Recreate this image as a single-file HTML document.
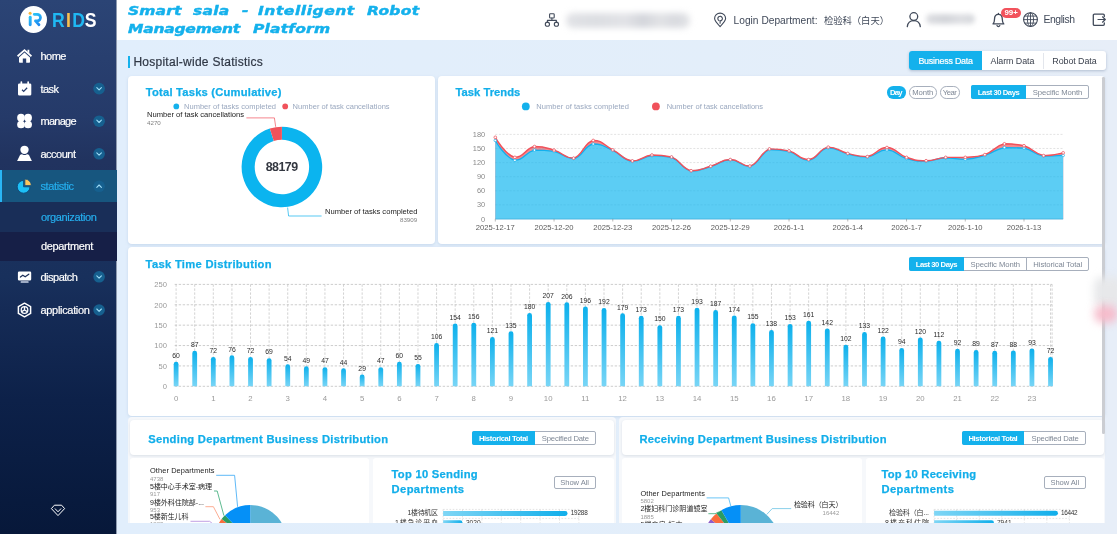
<!DOCTYPE html>
<html lang="en"><head><meta charset="utf-8"><title>Smart sala - Intelligent Robot Management Platform</title>
<style>
html,body{margin:0;padding:0}
body{width:1117px;height:534px;overflow:hidden;position:relative;background:#e2eefb;font-family:"Liberation Sans","Noto Sans CJK SC",sans-serif;}
svg{position:absolute;left:0;top:0;overflow:visible}
svg text{font-family:"Liberation Sans","Noto Sans CJK SC",sans-serif;}
</style></head><body>
<div style="position:absolute;left:116.50px;top:40.00px;width:1000.50px;height:494.00px;background:linear-gradient(90deg,#e1eefc 0%,#e3eefa 60%,#e7eef8 100%);border-radius:0px;"></div>
<div style="position:absolute;left:0.00px;top:0.00px;width:116.50px;height:534.00px;background:linear-gradient(180deg,#2b4475 0%,#253a69 22%,#21335f 30%,#18305c 52%,#152b56 58%,#0d2149 75%,#081a3d 94%,#07183a 100%);border-radius:0px;"></div>
<div style="position:absolute;left:116.30px;top:0.00px;width:0.90px;height:534.00px;background:#8f9bb0;border-radius:0px;"></div>
<div style="position:absolute;left:19.6px;top:6px;width:27.2px;height:27.2px;border-radius:50%;background:#fff"></div>
<svg width="117" height="40" viewBox="0 0 117 40">
<defs><linearGradient id="lg1" gradientUnits="userSpaceOnUse" x1="30" y1="13" x2="38" y2="26"><stop offset="0" stop-color="#2fd0f8"/><stop offset="1" stop-color="#1c86f0"/></linearGradient></defs>
<circle cx="30.1" cy="13.2" r="1.5" fill="#f9b63c"/>
<path d="M30.2 17.3 V24.7" stroke="url(#lg1)" stroke-width="2.9" stroke-linecap="round" fill="none"/>
<path d="M34.2 14.3 H37.2 a3.3 3.3 0 0 1 0 6.6 H35.4 L39 24.7" stroke="url(#lg1)" stroke-width="2.7" stroke-linecap="round" stroke-linejoin="round" fill="none"/>
</svg>
<div style="position:absolute;left:51.9px;top:7.7px;line-height:24px;font-size:20.6px;font-weight:bold;letter-spacing:0px;white-space:nowrap;transform-origin:0 0;transform:scaleX(0.855)"><span style="color:#1fb8f3">R</span><span style="color:#f8c04e;margin:0 1.6px 0 1.6px">I</span><span style="color:#1fb8f3">D</span><span style="color:#fff;margin-left:-0.4px">S</span></div>
<div style="position:absolute;left:0.00px;top:170.20px;width:116.50px;height:32.20px;background:#17567f;border-radius:0px;"></div>
<div style="position:absolute;left:0.00px;top:170.20px;width:2.00px;height:32.20px;background:#29b6f6;border-radius:0px;"></div>
<div style="position:absolute;left:0.00px;top:202.40px;width:116.50px;height:29.40px;background:#192e58;border-radius:0px;"></div>
<div style="position:absolute;left:0.00px;top:231.80px;width:116.50px;height:29.00px;background:#161f47;border-radius:0px;"></div>
<div style="position:absolute;top:49.20px;line-height:14px;font-size:11px;color:#fff;white-space:nowrap;letter-spacing:-0.554px;left:40.50px;-webkit-text-stroke:0.18px #fff;">home</div>
<div style="position:absolute;top:81.60px;line-height:14px;font-size:11px;color:#fff;white-space:nowrap;letter-spacing:-0.593px;left:40.50px;-webkit-text-stroke:0.18px #fff;">task</div>
<svg width="117" height="534"><circle cx="99.1" cy="88.6" r="5.8" fill="#16608f"/><path d="M96.80 87.60 L99.10 89.90 L101.40 87.60" stroke="#9fdcf7" stroke-width="1.1" fill="none" stroke-linecap="round" stroke-linejoin="round"/></svg>
<div style="position:absolute;top:114.20px;line-height:14px;font-size:11px;color:#fff;white-space:nowrap;letter-spacing:-0.725px;left:40.50px;-webkit-text-stroke:0.18px #fff;">manage</div>
<svg width="117" height="534"><circle cx="99.1" cy="121.2" r="5.8" fill="#16608f"/><path d="M96.80 120.20 L99.10 122.50 L101.40 120.20" stroke="#9fdcf7" stroke-width="1.1" fill="none" stroke-linecap="round" stroke-linejoin="round"/></svg>
<div style="position:absolute;top:146.80px;line-height:14px;font-size:11px;color:#fff;white-space:nowrap;letter-spacing:-0.504px;left:40.50px;-webkit-text-stroke:0.18px #fff;">account</div>
<svg width="117" height="534"><circle cx="99.1" cy="153.8" r="5.8" fill="#16608f"/><path d="M96.80 152.80 L99.10 155.10 L101.40 152.80" stroke="#9fdcf7" stroke-width="1.1" fill="none" stroke-linecap="round" stroke-linejoin="round"/></svg>
<div style="position:absolute;top:179.30px;line-height:14px;font-size:11px;color:#25b0f0;white-space:nowrap;letter-spacing:-0.386px;left:40.50px;-webkit-text-stroke:0.18px #25b0f0;">statistic</div>
<svg width="117" height="534"><circle cx="99.1" cy="186.3" r="5.8" fill="#16608f"/><path d="M96.80 187.30 L99.10 185.00 L101.40 187.30" stroke="#9fdcf7" stroke-width="1.1" fill="none" stroke-linecap="round" stroke-linejoin="round"/></svg>
<div style="position:absolute;top:210.40px;line-height:14px;font-size:11px;color:#25b0f0;white-space:nowrap;letter-spacing:-0.361px;left:40.90px;-webkit-text-stroke:0.18px #25b0f0;">organization</div>
<div style="position:absolute;top:239.40px;line-height:14px;font-size:11px;color:#fff;white-space:nowrap;letter-spacing:-0.355px;left:40.90px;-webkit-text-stroke:0.18px #fff;">department</div>
<div style="position:absolute;top:269.80px;line-height:14px;font-size:11px;color:#fff;white-space:nowrap;letter-spacing:-0.509px;left:40.50px;-webkit-text-stroke:0.18px #fff;">dispatch</div>
<svg width="117" height="534"><circle cx="99.1" cy="276.8" r="5.8" fill="#16608f"/><path d="M96.80 275.80 L99.10 278.10 L101.40 275.80" stroke="#9fdcf7" stroke-width="1.1" fill="none" stroke-linecap="round" stroke-linejoin="round"/></svg>
<div style="position:absolute;top:303.00px;line-height:14px;font-size:11px;color:#fff;white-space:nowrap;letter-spacing:-0.318px;left:40.50px;-webkit-text-stroke:0.18px #fff;">application</div>
<svg width="117" height="534"><circle cx="99.1" cy="310" r="5.8" fill="#16608f"/><path d="M96.80 309.00 L99.10 311.30 L101.40 309.00" stroke="#9fdcf7" stroke-width="1.1" fill="none" stroke-linecap="round" stroke-linejoin="round"/></svg>
<svg width="117" height="534" viewBox="0 0 117 534" fill="#fff">
<!-- home -->
<path d="M24.5 49 L32 55.6 L30.9 56.9 L24.5 51.3 L18.1 56.9 L17 55.6 Z"/>
<path d="M27.5 49.7 h1.8 v3.8 l-1.8 -1.6 Z"/>
<path d="M24.5 52.6 L30 57.4 V62 a0.8 0.8 0 0 1 -0.8 0.8 H26.2 V58.6 H22.8 V62.8 H19.8 a0.8 0.8 0 0 1 -0.8 -0.8 V57.4 Z"/>
<!-- task -->
<path d="M19.4 83.4 H29.9 a1.4 1.4 0 0 1 1.4 1.4 V94.2 a1.4 1.4 0 0 1 -1.4 1.4 H19.4 a1.4 1.4 0 0 1 -1.4 -1.4 V84.8 a1.4 1.4 0 0 1 1.4 -1.4 Z M21.6 90.2 L23.7 92.2 L27.6 88.2 L26.7 87.3 L23.7 90.4 L22.5 89.3 Z" fill-rule="evenodd"/>
<rect x="20.5" y="81.3" width="1.7" height="3.4" rx="0.8"/><rect x="27.3" y="81.3" width="1.7" height="3.4" rx="0.8"/>
<!-- manage -->
<circle cx="21" cy="117.7" r="3.85"/><circle cx="28.1" cy="117.7" r="3.85"/><circle cx="21" cy="124.5" r="3.85"/><circle cx="28.1" cy="124.5" r="3.85"/>
<!-- account -->
<circle cx="24.5" cy="149.8" r="4.15"/>
<path d="M17.1 160.9 L19.9 155.2 Q21 153.6 22.6 154.4 Q24.5 155.4 26.4 154.4 Q28 153.6 29.1 155.2 L31.9 160.9 Z"/>
<!-- statistic -->
<path d="M23.6 180.4 V186.8 H30 A6.4 6.4 0 1 1 23.6 180.4 Z" fill="#1cc0f7" stroke="#0f4c7c" stroke-width="0.9"/>
<path d="M24.9 179.1 A6.4 6.4 0 0 1 31.3 185.5 H24.9 Z" fill="#f9c65e" stroke="#0f4c7c" stroke-width="0.7"/>
<!-- dispatch -->
<path d="M19.1 271.6 H30 a1.2 1.2 0 0 1 1.2 1.2 V279.2 a1.2 1.2 0 0 1 -1.2 1.2 H19.1 a1.2 1.2 0 0 1 -1.2 -1.2 V272.8 a1.2 1.2 0 0 1 1.2 -1.2 Z"/>
<rect x="20.6" y="281.3" width="8" height="1.5" rx="0.5" fill="#c9d3e6"/>
<path d="M20.4 277 L22.8 275.2 L25.2 276.8 L28.8 274.2" stroke="#1b2f59" stroke-width="1.25" fill="none" stroke-linejoin="round" stroke-linecap="round"/>
<!-- application -->
<path d="M24.5 303.2 L30.6 306.6 V313.4 L24.5 316.8 L18.4 313.4 V306.6 Z" fill="none" stroke="#fff" stroke-width="1.5" stroke-linejoin="round"/>
<circle cx="24.5" cy="310" r="3.3" fill="none" stroke="#fff" stroke-width="1.3"/>
<path d="M24.5 310 V306.7 M24.5 310 L21.6 311.7 M24.5 310 L27.4 311.7" stroke="#fff" stroke-width="1.4" fill="none"/>
<!-- bottom diamond -->
<path d="M54.4 505.2 H61.6 L64.6 508.6 L58 515.6 L51.4 508.6 Z" fill="none" stroke="#fff" stroke-width="1" stroke-linejoin="round"/>
<path d="M55.2 508.8 L58 511.8 L60.8 508.8" fill="none" stroke="#fff" stroke-width="1" stroke-linejoin="round" stroke-linecap="round"/>
</svg>
<div style="position:absolute;left:116.50px;top:0.00px;width:1000.50px;height:40.00px;background:#fff;border-radius:0px;"></div>
<div style="position:absolute;left:0;top:0;font-family:'DejaVu Sans',sans-serif;font-weight:bold;font-style:italic;font-size:12.4px;line-height:18px;color:#14b1ec;white-space:nowrap;-webkit-text-stroke:0.45px #14b1ec"><span style="position:absolute;left:128.40px;top:2.11px;letter-spacing:0.114px;transform-origin:0 0;transform:scaleX(1.25)">Smart</span><span style="position:absolute;left:193.20px;top:2.11px;letter-spacing:0.224px;transform-origin:0 0;transform:scaleX(1.25)">sala</span><span style="position:absolute;left:241.60px;top:2.11px;letter-spacing:0.213px;transform-origin:0 0;transform:scaleX(1.25)">-</span><span style="position:absolute;left:257.70px;top:2.11px;letter-spacing:0.447px;transform-origin:0 0;transform:scaleX(1.25)">Intelligent</span><span style="position:absolute;left:366.70px;top:2.11px;letter-spacing:0.227px;transform-origin:0 0;transform:scaleX(1.25)">Robot</span><span style="position:absolute;left:128.40px;top:19.91px;letter-spacing:-0.169px;transform-origin:0 0;transform:scaleX(1.25)">Management</span><span style="position:absolute;left:253.00px;top:19.91px;letter-spacing:0.156px;transform-origin:0 0;transform:scaleX(1.25)">Platform</span></div>
<svg width="1117" height="40" viewBox="0 0 1117 40" fill="none" stroke="#414a5a" stroke-width="1.1" stroke-linejoin="round" stroke-linecap="round">
<!-- org icon -->
<rect x="549.6" y="13.8" width="4.6" height="4.2" rx="0.8"/>
<circle cx="547.4" cy="24.2" r="2.1"/><circle cx="556.4" cy="24.2" r="2.1"/>
<path d="M551.9 18 V20.4 M547.4 22.1 V20.4 H556.4 V22.1"/>
<!-- location -->
<path d="M720.1 26.6 C716.6 23 714.6 20.8 714.6 18.6 a5.5 5.5 0 0 1 11 0 C725.6 20.8 723.6 23 720.1 26.6 Z"/>
<path d="M720.1 23.2 V20.9 a2.3 2.3 0 1 0 -1.2 -0.35"/>
<!-- user -->
<circle cx="913.8" cy="16.6" r="3.9" stroke-width="1.3"/>
<path d="M907.3 26.6 C907.8 22.6 910.4 20.6 913.8 20.6 C917.2 20.6 919.8 22.6 920.3 26.6" stroke-width="1.3"/>
<!-- bell -->
<path d="M993 23.9 H1003.8 C1002.4 22.6 1002.3 21.4 1002.3 19.2 C1002.3 16 1000.6 14.3 998.4 14.3 C996.2 14.3 994.5 16 994.5 19.2 C994.5 21.4 994.4 22.6 993 23.9 Z" stroke-width="1.3"/>
<path d="M997 25.6 a1.5 1.5 0 0 0 2.8 0 M998.4 14.3 V13.5" stroke-width="1.3"/>
<!-- globe -->
<circle cx="1030.5" cy="19.6" r="6.9" stroke-width="1.1"/>
<ellipse cx="1030.5" cy="19.6" rx="3.1" ry="6.9" stroke-width="0.9"/>
<path d="M1023.6 19.6 H1037.4 M1030.5 12.7 V26.5 M1024.6 16.1 H1036.4 M1024.6 23.1 H1036.4" stroke-width="0.9"/>
<!-- logout -->
<path d="M1104.3 16.4 V15.2 a1.1 1.1 0 0 0 -1.1 -1.1 H1094.4 a1.1 1.1 0 0 0 -1.1 1.1 V24.3 a1.1 1.1 0 0 0 1.1 1.1 H1103.2 a1.1 1.1 0 0 0 1.1 -1.1 V23" stroke-width="1.3"/>
<path d="M1098 19.5 H1105.2 M1102.5 16.8 L1105.3 19.5 L1102.5 22.2" stroke-width="1.2"/>
</svg>
<div style="position:absolute;left:566px;top:13px;width:124px;height:14.5px;border-radius:7px;background:linear-gradient(90deg,#e1e2e6 0%,#dcdee2 25%,#e2e3e7 48%,#d3d5db 62%,#e2e3e6 76%,#d8dadf 88%,#e2e3e6 100%);filter:blur(3.4px)"></div>
<div style="position:absolute;left:926px;top:13.5px;width:49px;height:10px;border-radius:5px;background:linear-gradient(90deg,#dcdde1,#d3d5da 40%,#dedfe3 70%,#d6d8dc);filter:blur(2.6px)"></div>
<div style="position:absolute;top:13.70px;line-height:13px;font-size:10.2px;color:#414a5a;white-space:nowrap;letter-spacing:0.005px;left:733.60px;">Login Department:</div>
<div style="position:absolute;left:824px;top:13.5px;line-height:13px;font-size:9.4px;color:#414a5a;white-space:nowrap;font-family:'Noto Sans CJK SC',sans-serif;letter-spacing:-0.1px">检验科（白天）</div>
<div style="position:absolute;top:12.80px;line-height:14px;font-size:10.4px;color:#414a5a;white-space:nowrap;letter-spacing:-0.402px;left:1043.40px;">English</div>
<div style="position:absolute;left:1001.4px;top:7.8px;width:19.6px;height:10.1px;border-radius:5.1px;background:#f2525c;color:#fff;font-size:7.9px;font-weight:bold;line-height:10.9px;text-align:center">99+</div>
<div style="position:absolute;left:127.90px;top:56.40px;width:2.60px;height:11.20px;background:#14b1ec;border-radius:0px;"></div>
<div style="position:absolute;top:53.70px;line-height:16px;font-size:12px;color:#2f3745;white-space:nowrap;letter-spacing:0.259px;left:133.40px;-webkit-text-stroke:0.2px #2f3745;">Hospital-wide Statistics</div>
<div style="position:absolute;left:909.4px;top:51.4px;width:196.4px;height:18.3px;background:#fff;border-radius:3px;box-shadow:0 1px 3px rgba(110,130,160,.45)"></div>
<div style="position:absolute;left:909.40px;top:51.40px;width:72.40px;height:18.30px;background:#14b1ec;border-radius:0px;border-radius:3px 0 0 3px;"></div>
<div style="position:absolute;left:1043.20px;top:52.50px;width:0.50px;height:16.70px;background:#e3e6ec;border-radius:0px;"></div>
<div style="position:absolute;top:55.20px;line-height:12px;font-size:8.9px;color:#fff;white-space:nowrap;letter-spacing:-0.222px;left:745.70px;width:400px;text-align:center;text-indent:-0.222px;-webkit-text-stroke:0.2px #fff;">Business Data</div>
<div style="position:absolute;top:55.20px;line-height:12px;font-size:8.9px;color:#3c424e;white-space:nowrap;letter-spacing:-0.051px;left:812.50px;width:400px;text-align:center;text-indent:-0.051px;">Alarm Data</div>
<div style="position:absolute;top:55.20px;line-height:12px;font-size:8.9px;color:#3c424e;white-space:nowrap;letter-spacing:-0.052px;left:874.50px;width:400px;text-align:center;text-indent:-0.052px;">Robot Data</div>
<div style="position:absolute;left:128.00px;top:75.80px;width:306.60px;height:167.80px;background:#fff;border-radius:4px;box-shadow:0 1px 3px rgba(150,175,210,.35);"></div>
<div style="position:absolute;left:438.00px;top:75.80px;width:667.20px;height:167.80px;background:#fff;border-radius:4px;box-shadow:0 1px 3px rgba(150,175,210,.35);"></div>
<div style="position:absolute;left:128.00px;top:247.00px;width:977.20px;height:168.50px;background:#fff;border-radius:4px;box-shadow:0 1px 3px rgba(150,175,210,.35);"></div>
<div style="position:absolute;left:128.00px;top:417.20px;width:488.20px;height:122.80px;background:#f6f8fb;border-radius:4px;"></div>
<div style="position:absolute;left:130.00px;top:419.70px;width:483.80px;height:35.50px;background:#fff;border-radius:4px;box-shadow:0 1px 3px rgba(120,135,160,.22);"></div>
<div style="position:absolute;left:130.00px;top:458.40px;width:239.40px;height:81.60px;background:#fff;border-radius:3px;"></div>
<div style="position:absolute;left:373.00px;top:458.40px;width:240.80px;height:81.60px;background:#fff;border-radius:3px;"></div>
<div style="position:absolute;left:619.10px;top:417.20px;width:486.20px;height:122.80px;background:#f6f8fb;border-radius:4px;"></div>
<div style="position:absolute;left:621.50px;top:419.70px;width:482.10px;height:35.50px;background:#fff;border-radius:4px;box-shadow:0 1px 3px rgba(120,135,160,.22);"></div>
<div style="position:absolute;left:621.50px;top:458.40px;width:240.50px;height:81.60px;background:#fff;border-radius:3px;"></div>
<div style="position:absolute;left:865.60px;top:458.40px;width:238.00px;height:81.60px;background:#fff;border-radius:3px;"></div>
<div style="position:absolute;top:85.40px;line-height:15px;font-size:11.2px;color:#12aeea;white-space:nowrap;font-weight:bold;letter-spacing:0.212px;left:145.80px;-webkit-text-stroke:0.25px #12aeea;">Total Tasks (Cumulative)</div>
<div style="position:absolute;top:85.40px;line-height:15px;font-size:11.2px;color:#12aeea;white-space:nowrap;font-weight:bold;letter-spacing:0.042px;left:455.40px;-webkit-text-stroke:0.25px #12aeea;">Task Trends</div>
<div style="position:absolute;top:256.60px;line-height:15px;font-size:11.2px;color:#12aeea;white-space:nowrap;font-weight:bold;letter-spacing:0.305px;left:145.60px;-webkit-text-stroke:0.25px #12aeea;">Task Time Distribution</div>
<div style="position:absolute;top:431.80px;line-height:15px;font-size:11.2px;color:#12aeea;white-space:nowrap;font-weight:bold;letter-spacing:0.300px;left:148.20px;-webkit-text-stroke:0.25px #12aeea;">Sending Department Business Distribution</div>
<div style="position:absolute;top:431.80px;line-height:15px;font-size:11.2px;color:#12aeea;white-space:nowrap;font-weight:bold;letter-spacing:0.250px;left:639.40px;-webkit-text-stroke:0.25px #12aeea;">Receiving Department Business Distribution</div>
<div style="position:absolute;top:467.30px;line-height:15px;font-size:11.2px;color:#12aeea;white-space:nowrap;font-weight:bold;letter-spacing:0.282px;left:391.50px;-webkit-text-stroke:0.25px #12aeea;">Top 10 Sending</div>
<div style="position:absolute;top:482.00px;line-height:15px;font-size:11.2px;color:#12aeea;white-space:nowrap;font-weight:bold;letter-spacing:0.412px;left:391.50px;-webkit-text-stroke:0.25px #12aeea;">Departments</div>
<div style="position:absolute;top:467.30px;line-height:15px;font-size:11.2px;color:#12aeea;white-space:nowrap;font-weight:bold;letter-spacing:0.232px;left:881.40px;-webkit-text-stroke:0.25px #12aeea;">Top 10 Receiving</div>
<div style="position:absolute;top:481.70px;line-height:15px;font-size:11.2px;color:#12aeea;white-space:nowrap;font-weight:bold;letter-spacing:0.412px;left:881.40px;-webkit-text-stroke:0.25px #12aeea;">Departments</div>
<div style="position:absolute;left:971.3px;top:85.3px;width:115.5px;height:11.400000000000006px;border:1px solid #a7afbc;border-radius:2px;background:#fff"></div>
<div style="position:absolute;left:971.30px;top:85.30px;width:55.00px;height:13.40px;background:#14b1ec;border-radius:0px;border-radius:2px 0 0 2px;"></div>
<div style="position:absolute;top:87.50px;line-height:10px;font-size:7.7px;color:#fff;white-space:nowrap;font-weight:bold;letter-spacing:-0.465px;left:798.80px;width:400px;text-align:center;text-indent:-0.465px;">Last 30 Days</div>
<div style="position:absolute;top:87.50px;line-height:10px;font-size:7.7px;color:#7f8896;white-space:nowrap;letter-spacing:-0.072px;left:857.55px;width:400px;text-align:center;text-indent:-0.072px;">Specific Month</div>
<div style="position:absolute;left:909.4px;top:256.6px;width:177.5000000000001px;height:12.0px;border:1px solid #a7afbc;border-radius:2px;background:#fff"></div>
<div style="position:absolute;left:909.40px;top:256.60px;width:54.50px;height:14.00px;background:#14b1ec;border-radius:0px;border-radius:2px 0 0 2px;"></div>
<div style="position:absolute;top:259.50px;line-height:10px;font-size:7.7px;color:#fff;white-space:nowrap;font-weight:bold;letter-spacing:-0.465px;left:736.65px;width:400px;text-align:center;text-indent:-0.465px;">Last 30 Days</div>
<div style="position:absolute;top:259.50px;line-height:10px;font-size:7.7px;color:#7f8896;white-space:nowrap;letter-spacing:-0.072px;left:795.25px;width:400px;text-align:center;text-indent:-0.072px;">Specific Month</div>
<div style="position:absolute;left:1026.30px;top:256.60px;width:0.60px;height:14.00px;background:#a7afbc;border-radius:0px;"></div>
<div style="position:absolute;top:259.50px;line-height:10px;font-size:7.7px;color:#7f8896;white-space:nowrap;letter-spacing:-0.058px;left:857.75px;width:400px;text-align:center;text-indent:-0.058px;">Historical Total</div>
<div style="position:absolute;left:472.2px;top:431.4px;width:121.69999999999999px;height:11.800000000000011px;border:1px solid #a7afbc;border-radius:2px;background:#fff"></div>
<div style="position:absolute;left:472.20px;top:431.40px;width:62.80px;height:13.80px;background:#14b1ec;border-radius:0px;border-radius:2px 0 0 2px;"></div>
<div style="position:absolute;top:433.80px;line-height:10px;font-size:7.7px;color:#fff;white-space:nowrap;font-weight:bold;letter-spacing:-0.378px;left:303.60px;width:400px;text-align:center;text-indent:-0.378px;">Historical Total</div>
<div style="position:absolute;top:433.80px;line-height:10px;font-size:7.7px;color:#7f8896;white-space:nowrap;letter-spacing:-0.220px;left:365.45px;width:400px;text-align:center;text-indent:-0.220px;">Specified Date</div>
<div style="position:absolute;left:961.8px;top:431.4px;width:122.20000000000005px;height:11.800000000000011px;border:1px solid #a7afbc;border-radius:2px;background:#fff"></div>
<div style="position:absolute;left:961.80px;top:431.40px;width:62.60px;height:13.80px;background:#14b1ec;border-radius:0px;border-radius:2px 0 0 2px;"></div>
<div style="position:absolute;top:433.80px;line-height:10px;font-size:7.7px;color:#fff;white-space:nowrap;font-weight:bold;letter-spacing:-0.378px;left:793.10px;width:400px;text-align:center;text-indent:-0.378px;">Historical Total</div>
<div style="position:absolute;top:433.80px;line-height:10px;font-size:7.7px;color:#7f8896;white-space:nowrap;letter-spacing:-0.220px;left:855.20px;width:400px;text-align:center;text-indent:-0.220px;">Specified Date</div>
<div style="position:absolute;left:887.00px;top:86.20px;width:18.60px;height:12.50px;background:#14b1ec;border-radius:6.25px;"></div>
<div style="position:absolute;top:87.95px;line-height:10px;font-size:7.7px;color:#fff;white-space:nowrap;font-weight:bold;letter-spacing:-0.875px;left:696.30px;width:400px;text-align:center;text-indent:-0.875px;">Day</div>
<div style="position:absolute;left:909px;top:86.2px;width:25.600000000000023px;height:10.5px;border:1px solid #a7afbc;border-radius:6.25px;background:#fff"></div>
<div style="position:absolute;top:87.95px;line-height:10px;font-size:7.7px;color:#7f8896;white-space:nowrap;letter-spacing:-0.080px;left:722.80px;width:400px;text-align:center;text-indent:-0.080px;">Month</div>
<div style="position:absolute;left:939.6px;top:86.2px;width:18.399999999999977px;height:10.5px;border:1px solid #a7afbc;border-radius:6.25px;background:#fff"></div>
<div style="position:absolute;top:87.95px;line-height:10px;font-size:7.7px;color:#7f8896;white-space:nowrap;letter-spacing:-0.515px;left:749.80px;width:400px;text-align:center;text-indent:-0.515px;">Year</div>
<div style="position:absolute;left:553.7px;top:475.6px;width:39.89999999999998px;height:11.299999999999955px;border:1px solid #a7afbc;border-radius:2px;background:#fff"></div>
<div style="position:absolute;top:477.95px;line-height:10px;font-size:7.6px;color:#7f8896;white-space:nowrap;letter-spacing:-0.069px;left:374.65px;width:400px;text-align:center;text-indent:-0.069px;">Show All</div>
<div style="position:absolute;left:1044px;top:475.8px;width:39.5px;height:10.800000000000011px;border:1px solid #a7afbc;border-radius:2px;background:#fff"></div>
<div style="position:absolute;top:477.90px;line-height:10px;font-size:7.6px;color:#7f8896;white-space:nowrap;letter-spacing:-0.069px;left:864.75px;width:400px;text-align:center;text-indent:-0.069px;">Show All</div>
<svg width="1117" height="534" viewBox="0 0 1117 534"><circle cx="176.3" cy="106.4" r="2.85" fill="#14b1ec"/><circle cx="285.2" cy="106.4" r="2.85" fill="#f0525b"/><text x="184.00" y="109.00" font-size="7.5" fill="#9aa8bf" text-anchor="start" font-weight="normal" textLength="92.00" lengthAdjust="spacing">Number of tasks completed</text><text x="292.60" y="109.00" font-size="7.5" fill="#9aa8bf" text-anchor="start" font-weight="normal" textLength="97.00" lengthAdjust="spacing">Number of task cancellations</text><path d="M281.90 126.70 A40.3 40.3 0 1 1 269.83 128.55 L273.75 141.05 A27.2 27.2 0 1 0 281.90 139.80 Z" fill="#0bb4ef"/><path d="M269.83 128.55 A40.3 40.3 0 0 1 281.90 126.70 L281.90 139.80 A27.2 27.2 0 0 0 273.75 141.05 Z" fill="#f0525b"/><text x="281.90" y="171.06" font-size="12.4" fill="#333740" text-anchor="middle" font-weight="bold" textLength="32.50" lengthAdjust="spacing">88179</text><path d="M275.7 126.8 L274.4 117.9 H246.4" stroke="#f0525b" stroke-width="0.7" fill="none"/><path d="M287.6 207.6 L288.6 216 H321.6" stroke="#10b2ee" stroke-width="0.7" fill="none"/><text x="147.00" y="116.94" font-size="7.6" fill="#222" text-anchor="start" font-weight="normal" textLength="97.00" lengthAdjust="spacing">Number of task cancellations</text><text x="147.00" y="124.63" font-size="6.2" fill="#808080" text-anchor="start" font-weight="normal">4270</text><text x="417.40" y="214.34" font-size="7.6" fill="#222" text-anchor="end" font-weight="normal" textLength="92.40" lengthAdjust="spacing">Number of tasks completed</text><text x="417.20" y="222.23" font-size="6.2" fill="#808080" text-anchor="end" font-weight="normal">83909</text><circle cx="525.8" cy="106.4" r="3.9" fill="#14b1ec"/><circle cx="655.9" cy="106.4" r="3.9" fill="#f0525b"/><text x="536.20" y="109.00" font-size="7.5" fill="#9aa8bf" text-anchor="start" font-weight="normal" textLength="92.80" lengthAdjust="spacing">Number of tasks completed</text><text x="666.70" y="109.00" font-size="7.5" fill="#9aa8bf" text-anchor="start" font-weight="normal" textLength="96.30" lengthAdjust="spacing">Number of task cancellations</text><text x="485.20" y="221.56" font-size="7.4" fill="#8a8a8a" text-anchor="end" font-weight="normal">0</text><text x="485.20" y="207.48" font-size="7.4" fill="#8a8a8a" text-anchor="end" font-weight="normal">30</text><path d="M495.3 204.82 H1063.18" stroke="#cfcfcf" stroke-width="0.6" stroke-dasharray="2 1.6" fill="none"/><text x="485.20" y="193.40" font-size="7.4" fill="#8a8a8a" text-anchor="end" font-weight="normal">60</text><path d="M495.3 190.73 H1063.18" stroke="#cfcfcf" stroke-width="0.6" stroke-dasharray="2 1.6" fill="none"/><text x="485.20" y="179.31" font-size="7.4" fill="#8a8a8a" text-anchor="end" font-weight="normal">90</text><path d="M495.3 176.65 H1063.18" stroke="#cfcfcf" stroke-width="0.6" stroke-dasharray="2 1.6" fill="none"/><text x="485.20" y="165.23" font-size="7.4" fill="#8a8a8a" text-anchor="end" font-weight="normal">120</text><path d="M495.3 162.57 H1063.18" stroke="#cfcfcf" stroke-width="0.6" stroke-dasharray="2 1.6" fill="none"/><text x="485.20" y="151.15" font-size="7.4" fill="#8a8a8a" text-anchor="end" font-weight="normal">150</text><path d="M495.3 148.48 H1063.18" stroke="#cfcfcf" stroke-width="0.6" stroke-dasharray="2 1.6" fill="none"/><text x="485.20" y="137.06" font-size="7.4" fill="#8a8a8a" text-anchor="end" font-weight="normal">180</text><path d="M495.3 134.40 H1063.18" stroke="#cfcfcf" stroke-width="0.6" stroke-dasharray="2 1.6" fill="none"/><path d="M495.30 137.31 C495.30 137.31 505.09 155.05 514.88 157.36 C524.67 157.36 524.67 148.37 534.46 146.55 C544.26 146.55 544.26 147.19 554.05 150.09 C563.84 152.99 563.84 158.15 573.63 158.15 C583.42 155.74 583.42 142.52 593.21 140.45 C603.00 140.45 603.00 144.78 612.79 149.89 C622.58 155.00 622.58 159.63 632.37 160.90 C642.16 160.90 642.16 155.99 651.96 155.00 C661.75 155.00 661.75 155.00 671.54 156.97 C681.33 160.90 681.33 168.43 691.12 170.74 C700.91 170.74 700.91 169.02 710.70 166.21 C720.49 163.41 720.49 159.58 730.28 159.53 C740.08 159.53 740.07 166.02 749.87 166.02 C759.66 163.36 759.66 152.69 769.45 148.91 C779.24 148.91 779.24 148.91 789.03 150.88 C798.82 153.53 798.82 159.53 808.61 159.53 C818.40 158.59 818.40 148.66 828.19 147.14 C837.98 147.14 837.99 151.07 847.78 153.43 C857.57 155.79 857.57 156.58 867.36 156.58 C877.15 155.10 877.15 147.53 886.94 147.53 C896.73 147.73 896.73 154.07 906.52 157.36 C916.31 160.66 916.31 160.71 926.10 160.71 C935.89 160.71 935.89 158.20 945.69 157.36 C955.48 157.36 955.48 157.36 965.27 157.36 C975.06 156.68 975.06 157.36 984.85 154.61 C994.64 151.22 994.64 146.01 1004.43 143.80 C1014.22 143.80 1014.22 143.80 1024.01 145.76 C1033.81 148.71 1033.81 153.82 1043.60 155.59 C1053.39 155.59 1063.18 152.84 1063.18 152.84 L1063.18 218.9 L495.3 218.9 Z" fill="#f58a8f"/><path d="M495.30 140.45 C495.30 140.45 505.09 157.91 514.88 160.31 C524.67 160.31 524.67 152.30 534.46 150.09 C544.26 150.09 544.26 150.09 554.05 151.47 C563.84 153.58 563.84 158.54 573.63 158.54 C583.42 156.68 583.42 146.01 593.21 143.99 C603.00 143.99 603.00 146.16 612.79 150.48 C622.58 154.81 622.58 160.02 632.37 161.30 C642.16 161.30 642.16 156.58 651.96 155.59 C661.75 155.59 661.75 155.59 671.54 157.36 C681.33 161.25 681.33 168.82 691.12 171.13 C700.91 171.13 700.91 169.41 710.70 166.61 C720.49 163.81 720.49 159.92 730.28 159.92 C740.08 159.92 740.07 166.61 749.87 166.61 C759.66 164.00 759.66 153.28 769.45 149.50 C779.24 149.50 779.24 149.50 789.03 151.47 C798.82 154.12 798.82 160.12 808.61 160.12 C818.40 159.18 818.40 149.30 828.19 147.73 C837.98 147.73 837.99 151.51 847.78 153.82 C857.57 156.14 857.57 156.97 867.36 156.97 C877.15 155.99 877.15 149.89 886.94 149.89 C896.73 150.29 896.73 155.74 906.52 158.54 C916.31 161.10 916.31 161.10 926.10 161.10 C935.89 160.90 935.89 158.20 945.69 157.76 C955.48 157.76 955.48 159.33 965.27 159.33 C975.06 158.74 975.06 158.35 984.85 155.40 C994.64 152.45 994.64 149.35 1004.43 147.53 C1014.22 147.53 1014.22 147.53 1024.01 148.12 C1033.81 150.29 1033.81 154.37 1043.60 156.18 C1053.39 156.18 1063.18 155.40 1063.18 155.40 L1063.18 218.9 L495.3 218.9 Z" fill="#5ccdf4"/><clipPath id="ca"><path d="M495.30 137.31 C495.30 137.31 505.09 155.05 514.88 157.36 C524.67 157.36 524.67 148.37 534.46 146.55 C544.26 146.55 544.26 147.19 554.05 150.09 C563.84 152.99 563.84 158.15 573.63 158.15 C583.42 155.74 583.42 142.52 593.21 140.45 C603.00 140.45 603.00 144.78 612.79 149.89 C622.58 155.00 622.58 159.63 632.37 160.90 C642.16 160.90 642.16 155.99 651.96 155.00 C661.75 155.00 661.75 155.00 671.54 156.97 C681.33 160.90 681.33 168.43 691.12 170.74 C700.91 170.74 700.91 169.02 710.70 166.21 C720.49 163.41 720.49 159.58 730.28 159.53 C740.08 159.53 740.07 166.02 749.87 166.02 C759.66 163.36 759.66 152.69 769.45 148.91 C779.24 148.91 779.24 148.91 789.03 150.88 C798.82 153.53 798.82 159.53 808.61 159.53 C818.40 158.59 818.40 148.66 828.19 147.14 C837.98 147.14 837.99 151.07 847.78 153.43 C857.57 155.79 857.57 156.58 867.36 156.58 C877.15 155.10 877.15 147.53 886.94 147.53 C896.73 147.73 896.73 154.07 906.52 157.36 C916.31 160.66 916.31 160.71 926.10 160.71 C935.89 160.71 935.89 158.20 945.69 157.36 C955.48 157.36 955.48 157.36 965.27 157.36 C975.06 156.68 975.06 157.36 984.85 154.61 C994.64 151.22 994.64 146.01 1004.43 143.80 C1014.22 143.80 1014.22 143.80 1024.01 145.76 C1033.81 148.71 1033.81 153.82 1043.60 155.59 C1053.39 155.59 1063.18 152.84 1063.18 152.84 L1063.18 218.9 L495.3 218.9 Z"/></clipPath><path d="M495.3 204.82 H1063.18" stroke="#43b4dc" stroke-width="0.5" stroke-dasharray="2 1.6" fill="none" opacity="0.55" clip-path="url(#ca)"/><path d="M495.3 190.73 H1063.18" stroke="#43b4dc" stroke-width="0.5" stroke-dasharray="2 1.6" fill="none" opacity="0.55" clip-path="url(#ca)"/><path d="M495.3 176.65 H1063.18" stroke="#43b4dc" stroke-width="0.5" stroke-dasharray="2 1.6" fill="none" opacity="0.55" clip-path="url(#ca)"/><path d="M495.3 162.57 H1063.18" stroke="#43b4dc" stroke-width="0.5" stroke-dasharray="2 1.6" fill="none" opacity="0.55" clip-path="url(#ca)"/><path d="M495.3 148.48 H1063.18" stroke="#43b4dc" stroke-width="0.5" stroke-dasharray="2 1.6" fill="none" opacity="0.55" clip-path="url(#ca)"/><path d="M495.30 140.45 C495.30 140.45 505.09 157.91 514.88 160.31 C524.67 160.31 524.67 152.30 534.46 150.09 C544.26 150.09 544.26 150.09 554.05 151.47 C563.84 153.58 563.84 158.54 573.63 158.54 C583.42 156.68 583.42 146.01 593.21 143.99 C603.00 143.99 603.00 146.16 612.79 150.48 C622.58 154.81 622.58 160.02 632.37 161.30 C642.16 161.30 642.16 156.58 651.96 155.59 C661.75 155.59 661.75 155.59 671.54 157.36 C681.33 161.25 681.33 168.82 691.12 171.13 C700.91 171.13 700.91 169.41 710.70 166.61 C720.49 163.81 720.49 159.92 730.28 159.92 C740.08 159.92 740.07 166.61 749.87 166.61 C759.66 164.00 759.66 153.28 769.45 149.50 C779.24 149.50 779.24 149.50 789.03 151.47 C798.82 154.12 798.82 160.12 808.61 160.12 C818.40 159.18 818.40 149.30 828.19 147.73 C837.98 147.73 837.99 151.51 847.78 153.82 C857.57 156.14 857.57 156.97 867.36 156.97 C877.15 155.99 877.15 149.89 886.94 149.89 C896.73 150.29 896.73 155.74 906.52 158.54 C916.31 161.10 916.31 161.10 926.10 161.10 C935.89 160.90 935.89 158.20 945.69 157.76 C955.48 157.76 955.48 159.33 965.27 159.33 C975.06 158.74 975.06 158.35 984.85 155.40 C994.64 152.45 994.64 149.35 1004.43 147.53 C1014.22 147.53 1014.22 147.53 1024.01 148.12 C1033.81 150.29 1033.81 154.37 1043.60 156.18 C1053.39 156.18 1063.18 155.40 1063.18 155.40" stroke="#12b0ee" stroke-width="1.3" fill="none"/><path d="M495.30 137.31 C495.30 137.31 505.09 155.05 514.88 157.36 C524.67 157.36 524.67 148.37 534.46 146.55 C544.26 146.55 544.26 147.19 554.05 150.09 C563.84 152.99 563.84 158.15 573.63 158.15 C583.42 155.74 583.42 142.52 593.21 140.45 C603.00 140.45 603.00 144.78 612.79 149.89 C622.58 155.00 622.58 159.63 632.37 160.90 C642.16 160.90 642.16 155.99 651.96 155.00 C661.75 155.00 661.75 155.00 671.54 156.97 C681.33 160.90 681.33 168.43 691.12 170.74 C700.91 170.74 700.91 169.02 710.70 166.21 C720.49 163.41 720.49 159.58 730.28 159.53 C740.08 159.53 740.07 166.02 749.87 166.02 C759.66 163.36 759.66 152.69 769.45 148.91 C779.24 148.91 779.24 148.91 789.03 150.88 C798.82 153.53 798.82 159.53 808.61 159.53 C818.40 158.59 818.40 148.66 828.19 147.14 C837.98 147.14 837.99 151.07 847.78 153.43 C857.57 155.79 857.57 156.58 867.36 156.58 C877.15 155.10 877.15 147.53 886.94 147.53 C896.73 147.73 896.73 154.07 906.52 157.36 C916.31 160.66 916.31 160.71 926.10 160.71 C935.89 160.71 935.89 158.20 945.69 157.36 C955.48 157.36 955.48 157.36 965.27 157.36 C975.06 156.68 975.06 157.36 984.85 154.61 C994.64 151.22 994.64 146.01 1004.43 143.80 C1014.22 143.80 1014.22 143.80 1024.01 145.76 C1033.81 148.71 1033.81 153.82 1043.60 155.59 C1053.39 155.59 1063.18 152.84 1063.18 152.84" stroke="#f0525b" stroke-width="1.4" fill="none"/><circle cx="495.30" cy="140.45" r="1.3" fill="#fff" stroke="#12b0ee" stroke-width="0.7"/><circle cx="514.88" cy="160.31" r="1.3" fill="#fff" stroke="#12b0ee" stroke-width="0.7"/><circle cx="534.46" cy="150.09" r="1.3" fill="#fff" stroke="#12b0ee" stroke-width="0.7"/><circle cx="554.05" cy="151.47" r="1.3" fill="#fff" stroke="#12b0ee" stroke-width="0.7"/><circle cx="573.63" cy="158.54" r="1.3" fill="#fff" stroke="#12b0ee" stroke-width="0.7"/><circle cx="593.21" cy="143.99" r="1.3" fill="#fff" stroke="#12b0ee" stroke-width="0.7"/><circle cx="612.79" cy="150.48" r="1.3" fill="#fff" stroke="#12b0ee" stroke-width="0.7"/><circle cx="632.37" cy="161.30" r="1.3" fill="#fff" stroke="#12b0ee" stroke-width="0.7"/><circle cx="651.96" cy="155.59" r="1.3" fill="#fff" stroke="#12b0ee" stroke-width="0.7"/><circle cx="671.54" cy="157.36" r="1.3" fill="#fff" stroke="#12b0ee" stroke-width="0.7"/><circle cx="691.12" cy="171.13" r="1.3" fill="#fff" stroke="#12b0ee" stroke-width="0.7"/><circle cx="710.70" cy="166.61" r="1.3" fill="#fff" stroke="#12b0ee" stroke-width="0.7"/><circle cx="730.28" cy="159.92" r="1.3" fill="#fff" stroke="#12b0ee" stroke-width="0.7"/><circle cx="749.87" cy="166.61" r="1.3" fill="#fff" stroke="#12b0ee" stroke-width="0.7"/><circle cx="769.45" cy="149.50" r="1.3" fill="#fff" stroke="#12b0ee" stroke-width="0.7"/><circle cx="789.03" cy="151.47" r="1.3" fill="#fff" stroke="#12b0ee" stroke-width="0.7"/><circle cx="808.61" cy="160.12" r="1.3" fill="#fff" stroke="#12b0ee" stroke-width="0.7"/><circle cx="828.19" cy="147.73" r="1.3" fill="#fff" stroke="#12b0ee" stroke-width="0.7"/><circle cx="847.78" cy="153.82" r="1.3" fill="#fff" stroke="#12b0ee" stroke-width="0.7"/><circle cx="867.36" cy="156.97" r="1.3" fill="#fff" stroke="#12b0ee" stroke-width="0.7"/><circle cx="886.94" cy="149.89" r="1.3" fill="#fff" stroke="#12b0ee" stroke-width="0.7"/><circle cx="906.52" cy="158.54" r="1.3" fill="#fff" stroke="#12b0ee" stroke-width="0.7"/><circle cx="926.10" cy="161.10" r="1.3" fill="#fff" stroke="#12b0ee" stroke-width="0.7"/><circle cx="945.69" cy="157.76" r="1.3" fill="#fff" stroke="#12b0ee" stroke-width="0.7"/><circle cx="965.27" cy="159.33" r="1.3" fill="#fff" stroke="#12b0ee" stroke-width="0.7"/><circle cx="984.85" cy="155.40" r="1.3" fill="#fff" stroke="#12b0ee" stroke-width="0.7"/><circle cx="1004.43" cy="147.53" r="1.3" fill="#fff" stroke="#12b0ee" stroke-width="0.7"/><circle cx="1024.01" cy="148.12" r="1.3" fill="#fff" stroke="#12b0ee" stroke-width="0.7"/><circle cx="1043.60" cy="156.18" r="1.3" fill="#fff" stroke="#12b0ee" stroke-width="0.7"/><circle cx="1063.18" cy="155.40" r="1.3" fill="#fff" stroke="#12b0ee" stroke-width="0.7"/><circle cx="495.30" cy="137.31" r="1.35" fill="#fff" stroke="#f0525b" stroke-width="0.75"/><circle cx="514.88" cy="157.36" r="1.35" fill="#fff" stroke="#f0525b" stroke-width="0.75"/><circle cx="534.46" cy="146.55" r="1.35" fill="#fff" stroke="#f0525b" stroke-width="0.75"/><circle cx="554.05" cy="150.09" r="1.35" fill="#fff" stroke="#f0525b" stroke-width="0.75"/><circle cx="573.63" cy="158.15" r="1.35" fill="#fff" stroke="#f0525b" stroke-width="0.75"/><circle cx="593.21" cy="140.45" r="1.35" fill="#fff" stroke="#f0525b" stroke-width="0.75"/><circle cx="612.79" cy="149.89" r="1.35" fill="#fff" stroke="#f0525b" stroke-width="0.75"/><circle cx="632.37" cy="160.90" r="1.35" fill="#fff" stroke="#f0525b" stroke-width="0.75"/><circle cx="651.96" cy="155.00" r="1.35" fill="#fff" stroke="#f0525b" stroke-width="0.75"/><circle cx="671.54" cy="156.97" r="1.35" fill="#fff" stroke="#f0525b" stroke-width="0.75"/><circle cx="691.12" cy="170.74" r="1.35" fill="#fff" stroke="#f0525b" stroke-width="0.75"/><circle cx="710.70" cy="166.21" r="1.35" fill="#fff" stroke="#f0525b" stroke-width="0.75"/><circle cx="730.28" cy="159.53" r="1.35" fill="#fff" stroke="#f0525b" stroke-width="0.75"/><circle cx="749.87" cy="166.02" r="1.35" fill="#fff" stroke="#f0525b" stroke-width="0.75"/><circle cx="769.45" cy="148.91" r="1.35" fill="#fff" stroke="#f0525b" stroke-width="0.75"/><circle cx="789.03" cy="150.88" r="1.35" fill="#fff" stroke="#f0525b" stroke-width="0.75"/><circle cx="808.61" cy="159.53" r="1.35" fill="#fff" stroke="#f0525b" stroke-width="0.75"/><circle cx="828.19" cy="147.14" r="1.35" fill="#fff" stroke="#f0525b" stroke-width="0.75"/><circle cx="847.78" cy="153.43" r="1.35" fill="#fff" stroke="#f0525b" stroke-width="0.75"/><circle cx="867.36" cy="156.58" r="1.35" fill="#fff" stroke="#f0525b" stroke-width="0.75"/><circle cx="886.94" cy="147.53" r="1.35" fill="#fff" stroke="#f0525b" stroke-width="0.75"/><circle cx="906.52" cy="157.36" r="1.35" fill="#fff" stroke="#f0525b" stroke-width="0.75"/><circle cx="926.10" cy="160.71" r="1.35" fill="#fff" stroke="#f0525b" stroke-width="0.75"/><circle cx="945.69" cy="157.36" r="1.35" fill="#fff" stroke="#f0525b" stroke-width="0.75"/><circle cx="965.27" cy="157.36" r="1.35" fill="#fff" stroke="#f0525b" stroke-width="0.75"/><circle cx="984.85" cy="154.61" r="1.35" fill="#fff" stroke="#f0525b" stroke-width="0.75"/><circle cx="1004.43" cy="143.80" r="1.35" fill="#fff" stroke="#f0525b" stroke-width="0.75"/><circle cx="1024.01" cy="145.76" r="1.35" fill="#fff" stroke="#f0525b" stroke-width="0.75"/><circle cx="1043.60" cy="155.59" r="1.35" fill="#fff" stroke="#f0525b" stroke-width="0.75"/><circle cx="1063.18" cy="152.84" r="1.35" fill="#fff" stroke="#f0525b" stroke-width="0.75"/><path d="M495.3 219.1 H1063.18" stroke="#38a8d6" stroke-width="0.7"/><path d="M495.30 218.9 v2.6" stroke="#8a8a8a" stroke-width="0.6"/><text x="495.30" y="229.94" font-size="7.6" fill="#5a5a5a" text-anchor="middle" font-weight="normal">2025-12-17</text><path d="M554.05 218.9 v2.6" stroke="#8a8a8a" stroke-width="0.6"/><text x="554.05" y="229.94" font-size="7.6" fill="#5a5a5a" text-anchor="middle" font-weight="normal">2025-12-20</text><path d="M612.79 218.9 v2.6" stroke="#8a8a8a" stroke-width="0.6"/><text x="612.79" y="229.94" font-size="7.6" fill="#5a5a5a" text-anchor="middle" font-weight="normal">2025-12-23</text><path d="M671.54 218.9 v2.6" stroke="#8a8a8a" stroke-width="0.6"/><text x="671.54" y="229.94" font-size="7.6" fill="#5a5a5a" text-anchor="middle" font-weight="normal">2025-12-26</text><path d="M730.28 218.9 v2.6" stroke="#8a8a8a" stroke-width="0.6"/><text x="730.28" y="229.94" font-size="7.6" fill="#5a5a5a" text-anchor="middle" font-weight="normal">2025-12-29</text><path d="M789.03 218.9 v2.6" stroke="#8a8a8a" stroke-width="0.6"/><text x="789.03" y="229.94" font-size="7.6" fill="#5a5a5a" text-anchor="middle" font-weight="normal">2026-1-1</text><path d="M847.78 218.9 v2.6" stroke="#8a8a8a" stroke-width="0.6"/><text x="847.78" y="229.94" font-size="7.6" fill="#5a5a5a" text-anchor="middle" font-weight="normal">2026-1-4</text><path d="M906.52 218.9 v2.6" stroke="#8a8a8a" stroke-width="0.6"/><text x="906.52" y="229.94" font-size="7.6" fill="#5a5a5a" text-anchor="middle" font-weight="normal">2026-1-7</text><path d="M965.27 218.9 v2.6" stroke="#8a8a8a" stroke-width="0.6"/><text x="965.27" y="229.94" font-size="7.6" fill="#5a5a5a" text-anchor="middle" font-weight="normal">2026-1-10</text><path d="M1024.01 218.9 v2.6" stroke="#8a8a8a" stroke-width="0.6"/><text x="1024.01" y="229.94" font-size="7.6" fill="#5a5a5a" text-anchor="middle" font-weight="normal">2026-1-13</text><defs><linearGradient id="bg" x1="0" y1="0" x2="0" y2="1"><stop offset="0" stop-color="#0cb0ec"/><stop offset="1" stop-color="#78d5f6"/></linearGradient><linearGradient id="hb" x1="0" y1="0" x2="1" y2="0"><stop offset="0" stop-color="#7fd6f5"/><stop offset="1" stop-color="#10aeea"/></linearGradient></defs><text x="167.00" y="389.04" font-size="7.6" fill="#999" text-anchor="end" font-weight="normal">0</text><path d="M174.7 386.30 H1052.13" stroke="#b8b8b8" stroke-width="0.7" stroke-dasharray="2.4 1.6" fill="none"/><text x="167.00" y="368.66" font-size="7.6" fill="#999" text-anchor="end" font-weight="normal">50</text><path d="M174.7 365.92 H1052.13" stroke="#b8b8b8" stroke-width="0.7" stroke-dasharray="2.4 1.6" fill="none"/><text x="167.00" y="348.28" font-size="7.6" fill="#999" text-anchor="end" font-weight="normal">100</text><path d="M174.7 345.54 H1052.13" stroke="#b8b8b8" stroke-width="0.7" stroke-dasharray="2.4 1.6" fill="none"/><text x="167.00" y="327.90" font-size="7.6" fill="#999" text-anchor="end" font-weight="normal">150</text><path d="M174.7 325.16 H1052.13" stroke="#b8b8b8" stroke-width="0.7" stroke-dasharray="2.4 1.6" fill="none"/><text x="167.00" y="307.52" font-size="7.6" fill="#999" text-anchor="end" font-weight="normal">200</text><path d="M174.7 304.78 H1052.13" stroke="#b8b8b8" stroke-width="0.7" stroke-dasharray="2.4 1.6" fill="none"/><text x="167.00" y="287.14" font-size="7.6" fill="#999" text-anchor="end" font-weight="normal">250</text><path d="M174.7 284.40 H1052.13" stroke="#b8b8b8" stroke-width="0.7" stroke-dasharray="2.4 1.6" fill="none"/><path d="M176.10 284.4 V386.3" stroke="#c0c0c0" stroke-width="0.7" stroke-dasharray="2.4 1.6" fill="none"/><path d="M194.70 284.4 V386.3" stroke="#c0c0c0" stroke-width="0.7" stroke-dasharray="2.4 1.6" fill="none"/><path d="M213.31 284.4 V386.3" stroke="#c0c0c0" stroke-width="0.7" stroke-dasharray="2.4 1.6" fill="none"/><path d="M231.91 284.4 V386.3" stroke="#c0c0c0" stroke-width="0.7" stroke-dasharray="2.4 1.6" fill="none"/><path d="M250.52 284.4 V386.3" stroke="#c0c0c0" stroke-width="0.7" stroke-dasharray="2.4 1.6" fill="none"/><path d="M269.12 284.4 V386.3" stroke="#c0c0c0" stroke-width="0.7" stroke-dasharray="2.4 1.6" fill="none"/><path d="M287.73 284.4 V386.3" stroke="#c0c0c0" stroke-width="0.7" stroke-dasharray="2.4 1.6" fill="none"/><path d="M306.34 284.4 V386.3" stroke="#c0c0c0" stroke-width="0.7" stroke-dasharray="2.4 1.6" fill="none"/><path d="M324.94 284.4 V386.3" stroke="#c0c0c0" stroke-width="0.7" stroke-dasharray="2.4 1.6" fill="none"/><path d="M343.54 284.4 V386.3" stroke="#c0c0c0" stroke-width="0.7" stroke-dasharray="2.4 1.6" fill="none"/><path d="M362.15 284.4 V386.3" stroke="#c0c0c0" stroke-width="0.7" stroke-dasharray="2.4 1.6" fill="none"/><path d="M380.75 284.4 V386.3" stroke="#c0c0c0" stroke-width="0.7" stroke-dasharray="2.4 1.6" fill="none"/><path d="M399.36 284.4 V386.3" stroke="#c0c0c0" stroke-width="0.7" stroke-dasharray="2.4 1.6" fill="none"/><path d="M417.97 284.4 V386.3" stroke="#c0c0c0" stroke-width="0.7" stroke-dasharray="2.4 1.6" fill="none"/><path d="M436.57 284.4 V386.3" stroke="#c0c0c0" stroke-width="0.7" stroke-dasharray="2.4 1.6" fill="none"/><path d="M455.17 284.4 V386.3" stroke="#c0c0c0" stroke-width="0.7" stroke-dasharray="2.4 1.6" fill="none"/><path d="M473.78 284.4 V386.3" stroke="#c0c0c0" stroke-width="0.7" stroke-dasharray="2.4 1.6" fill="none"/><path d="M492.38 284.4 V386.3" stroke="#c0c0c0" stroke-width="0.7" stroke-dasharray="2.4 1.6" fill="none"/><path d="M510.99 284.4 V386.3" stroke="#c0c0c0" stroke-width="0.7" stroke-dasharray="2.4 1.6" fill="none"/><path d="M529.60 284.4 V386.3" stroke="#c0c0c0" stroke-width="0.7" stroke-dasharray="2.4 1.6" fill="none"/><path d="M548.20 284.4 V386.3" stroke="#c0c0c0" stroke-width="0.7" stroke-dasharray="2.4 1.6" fill="none"/><path d="M566.80 284.4 V386.3" stroke="#c0c0c0" stroke-width="0.7" stroke-dasharray="2.4 1.6" fill="none"/><path d="M585.41 284.4 V386.3" stroke="#c0c0c0" stroke-width="0.7" stroke-dasharray="2.4 1.6" fill="none"/><path d="M604.01 284.4 V386.3" stroke="#c0c0c0" stroke-width="0.7" stroke-dasharray="2.4 1.6" fill="none"/><path d="M622.62 284.4 V386.3" stroke="#c0c0c0" stroke-width="0.7" stroke-dasharray="2.4 1.6" fill="none"/><path d="M641.23 284.4 V386.3" stroke="#c0c0c0" stroke-width="0.7" stroke-dasharray="2.4 1.6" fill="none"/><path d="M659.83 284.4 V386.3" stroke="#c0c0c0" stroke-width="0.7" stroke-dasharray="2.4 1.6" fill="none"/><path d="M678.44 284.4 V386.3" stroke="#c0c0c0" stroke-width="0.7" stroke-dasharray="2.4 1.6" fill="none"/><path d="M697.04 284.4 V386.3" stroke="#c0c0c0" stroke-width="0.7" stroke-dasharray="2.4 1.6" fill="none"/><path d="M715.64 284.4 V386.3" stroke="#c0c0c0" stroke-width="0.7" stroke-dasharray="2.4 1.6" fill="none"/><path d="M734.25 284.4 V386.3" stroke="#c0c0c0" stroke-width="0.7" stroke-dasharray="2.4 1.6" fill="none"/><path d="M752.86 284.4 V386.3" stroke="#c0c0c0" stroke-width="0.7" stroke-dasharray="2.4 1.6" fill="none"/><path d="M771.46 284.4 V386.3" stroke="#c0c0c0" stroke-width="0.7" stroke-dasharray="2.4 1.6" fill="none"/><path d="M790.07 284.4 V386.3" stroke="#c0c0c0" stroke-width="0.7" stroke-dasharray="2.4 1.6" fill="none"/><path d="M808.67 284.4 V386.3" stroke="#c0c0c0" stroke-width="0.7" stroke-dasharray="2.4 1.6" fill="none"/><path d="M827.28 284.4 V386.3" stroke="#c0c0c0" stroke-width="0.7" stroke-dasharray="2.4 1.6" fill="none"/><path d="M845.88 284.4 V386.3" stroke="#c0c0c0" stroke-width="0.7" stroke-dasharray="2.4 1.6" fill="none"/><path d="M864.49 284.4 V386.3" stroke="#c0c0c0" stroke-width="0.7" stroke-dasharray="2.4 1.6" fill="none"/><path d="M883.09 284.4 V386.3" stroke="#c0c0c0" stroke-width="0.7" stroke-dasharray="2.4 1.6" fill="none"/><path d="M901.70 284.4 V386.3" stroke="#c0c0c0" stroke-width="0.7" stroke-dasharray="2.4 1.6" fill="none"/><path d="M920.30 284.4 V386.3" stroke="#c0c0c0" stroke-width="0.7" stroke-dasharray="2.4 1.6" fill="none"/><path d="M938.91 284.4 V386.3" stroke="#c0c0c0" stroke-width="0.7" stroke-dasharray="2.4 1.6" fill="none"/><path d="M957.51 284.4 V386.3" stroke="#c0c0c0" stroke-width="0.7" stroke-dasharray="2.4 1.6" fill="none"/><path d="M976.12 284.4 V386.3" stroke="#c0c0c0" stroke-width="0.7" stroke-dasharray="2.4 1.6" fill="none"/><path d="M994.72 284.4 V386.3" stroke="#c0c0c0" stroke-width="0.7" stroke-dasharray="2.4 1.6" fill="none"/><path d="M1013.33 284.4 V386.3" stroke="#c0c0c0" stroke-width="0.7" stroke-dasharray="2.4 1.6" fill="none"/><path d="M1031.93 284.4 V386.3" stroke="#c0c0c0" stroke-width="0.7" stroke-dasharray="2.4 1.6" fill="none"/><path d="M1050.54 284.4 V386.3" stroke="#c0c0c0" stroke-width="0.7" stroke-dasharray="2.4 1.6" fill="none"/><path d="M1052.13 284.4 V386.3" stroke="#c0c0c0" stroke-width="0.7" stroke-dasharray="2.4 1.6" fill="none"/><path d="M173.70 386.3 V364.24 a2.4 2.4 0 0 1 4.8 0 V386.3 Z" fill="url(#bg)"/><text x="176.10" y="358.09" font-size="6.8" fill="#2c2c2c" text-anchor="middle" font-weight="normal">60</text><text x="176.10" y="401.41" font-size="7.8" fill="#9a9a9a" text-anchor="middle" font-weight="normal">0</text><path d="M192.30 386.3 V353.24 a2.4 2.4 0 0 1 4.8 0 V386.3 Z" fill="url(#bg)"/><text x="194.70" y="347.09" font-size="6.8" fill="#2c2c2c" text-anchor="middle" font-weight="normal">87</text><path d="M210.91 386.3 V359.35 a2.4 2.4 0 0 1 4.8 0 V386.3 Z" fill="url(#bg)"/><text x="213.31" y="353.20" font-size="6.8" fill="#2c2c2c" text-anchor="middle" font-weight="normal">72</text><text x="213.31" y="401.41" font-size="7.8" fill="#9a9a9a" text-anchor="middle" font-weight="normal">1</text><path d="M229.51 386.3 V357.72 a2.4 2.4 0 0 1 4.8 0 V386.3 Z" fill="url(#bg)"/><text x="231.91" y="351.57" font-size="6.8" fill="#2c2c2c" text-anchor="middle" font-weight="normal">76</text><path d="M248.12 386.3 V359.35 a2.4 2.4 0 0 1 4.8 0 V386.3 Z" fill="url(#bg)"/><text x="250.52" y="353.20" font-size="6.8" fill="#2c2c2c" text-anchor="middle" font-weight="normal">72</text><text x="250.52" y="401.41" font-size="7.8" fill="#9a9a9a" text-anchor="middle" font-weight="normal">2</text><path d="M266.73 386.3 V360.58 a2.4 2.4 0 0 1 4.8 0 V386.3 Z" fill="url(#bg)"/><text x="269.12" y="354.42" font-size="6.8" fill="#2c2c2c" text-anchor="middle" font-weight="normal">69</text><path d="M285.33 386.3 V366.69 a2.4 2.4 0 0 1 4.8 0 V386.3 Z" fill="url(#bg)"/><text x="287.73" y="360.54" font-size="6.8" fill="#2c2c2c" text-anchor="middle" font-weight="normal">54</text><text x="287.73" y="401.41" font-size="7.8" fill="#9a9a9a" text-anchor="middle" font-weight="normal">3</text><path d="M303.94 386.3 V368.73 a2.4 2.4 0 0 1 4.8 0 V386.3 Z" fill="url(#bg)"/><text x="306.34" y="362.58" font-size="6.8" fill="#2c2c2c" text-anchor="middle" font-weight="normal">49</text><path d="M322.54 386.3 V369.54 a2.4 2.4 0 0 1 4.8 0 V386.3 Z" fill="url(#bg)"/><text x="324.94" y="363.39" font-size="6.8" fill="#2c2c2c" text-anchor="middle" font-weight="normal">47</text><text x="324.94" y="401.41" font-size="7.8" fill="#9a9a9a" text-anchor="middle" font-weight="normal">4</text><path d="M341.14 386.3 V370.77 a2.4 2.4 0 0 1 4.8 0 V386.3 Z" fill="url(#bg)"/><text x="343.54" y="364.61" font-size="6.8" fill="#2c2c2c" text-anchor="middle" font-weight="normal">44</text><path d="M359.75 386.3 V376.88 a2.4 2.4 0 0 1 4.8 0 V386.3 Z" fill="url(#bg)"/><text x="362.15" y="370.73" font-size="6.8" fill="#2c2c2c" text-anchor="middle" font-weight="normal">29</text><text x="362.15" y="401.41" font-size="7.8" fill="#9a9a9a" text-anchor="middle" font-weight="normal">5</text><path d="M378.36 386.3 V369.54 a2.4 2.4 0 0 1 4.8 0 V386.3 Z" fill="url(#bg)"/><text x="380.75" y="363.39" font-size="6.8" fill="#2c2c2c" text-anchor="middle" font-weight="normal">47</text><path d="M396.96 386.3 V364.24 a2.4 2.4 0 0 1 4.8 0 V386.3 Z" fill="url(#bg)"/><text x="399.36" y="358.09" font-size="6.8" fill="#2c2c2c" text-anchor="middle" font-weight="normal">60</text><text x="399.36" y="401.41" font-size="7.8" fill="#9a9a9a" text-anchor="middle" font-weight="normal">6</text><path d="M415.57 386.3 V366.28 a2.4 2.4 0 0 1 4.8 0 V386.3 Z" fill="url(#bg)"/><text x="417.97" y="360.13" font-size="6.8" fill="#2c2c2c" text-anchor="middle" font-weight="normal">55</text><path d="M434.17 386.3 V345.49 a2.4 2.4 0 0 1 4.8 0 V386.3 Z" fill="url(#bg)"/><text x="436.57" y="339.34" font-size="6.8" fill="#2c2c2c" text-anchor="middle" font-weight="normal">106</text><text x="436.57" y="401.41" font-size="7.8" fill="#9a9a9a" text-anchor="middle" font-weight="normal">7</text><path d="M452.77 386.3 V325.93 a2.4 2.4 0 0 1 4.8 0 V386.3 Z" fill="url(#bg)"/><text x="455.17" y="319.78" font-size="6.8" fill="#2c2c2c" text-anchor="middle" font-weight="normal">154</text><path d="M471.38 386.3 V325.11 a2.4 2.4 0 0 1 4.8 0 V386.3 Z" fill="url(#bg)"/><text x="473.78" y="318.96" font-size="6.8" fill="#2c2c2c" text-anchor="middle" font-weight="normal">156</text><text x="473.78" y="401.41" font-size="7.8" fill="#9a9a9a" text-anchor="middle" font-weight="normal">8</text><path d="M489.99 386.3 V339.38 a2.4 2.4 0 0 1 4.8 0 V386.3 Z" fill="url(#bg)"/><text x="492.38" y="333.23" font-size="6.8" fill="#2c2c2c" text-anchor="middle" font-weight="normal">121</text><path d="M508.59 386.3 V333.67 a2.4 2.4 0 0 1 4.8 0 V386.3 Z" fill="url(#bg)"/><text x="510.99" y="327.52" font-size="6.8" fill="#2c2c2c" text-anchor="middle" font-weight="normal">135</text><text x="510.99" y="401.41" font-size="7.8" fill="#9a9a9a" text-anchor="middle" font-weight="normal">9</text><path d="M527.20 386.3 V315.33 a2.4 2.4 0 0 1 4.8 0 V386.3 Z" fill="url(#bg)"/><text x="529.60" y="309.18" font-size="6.8" fill="#2c2c2c" text-anchor="middle" font-weight="normal">180</text><path d="M545.80 386.3 V304.33 a2.4 2.4 0 0 1 4.8 0 V386.3 Z" fill="url(#bg)"/><text x="548.20" y="298.17" font-size="6.8" fill="#2c2c2c" text-anchor="middle" font-weight="normal">207</text><text x="548.20" y="401.41" font-size="7.8" fill="#9a9a9a" text-anchor="middle" font-weight="normal">10</text><path d="M564.40 386.3 V304.73 a2.4 2.4 0 0 1 4.8 0 V386.3 Z" fill="url(#bg)"/><text x="566.80" y="298.58" font-size="6.8" fill="#2c2c2c" text-anchor="middle" font-weight="normal">206</text><path d="M583.01 386.3 V308.81 a2.4 2.4 0 0 1 4.8 0 V386.3 Z" fill="url(#bg)"/><text x="585.41" y="302.66" font-size="6.8" fill="#2c2c2c" text-anchor="middle" font-weight="normal">196</text><text x="585.41" y="401.41" font-size="7.8" fill="#9a9a9a" text-anchor="middle" font-weight="normal">11</text><path d="M601.62 386.3 V310.44 a2.4 2.4 0 0 1 4.8 0 V386.3 Z" fill="url(#bg)"/><text x="604.01" y="304.29" font-size="6.8" fill="#2c2c2c" text-anchor="middle" font-weight="normal">192</text><path d="M620.22 386.3 V315.74 a2.4 2.4 0 0 1 4.8 0 V386.3 Z" fill="url(#bg)"/><text x="622.62" y="309.59" font-size="6.8" fill="#2c2c2c" text-anchor="middle" font-weight="normal">179</text><text x="622.62" y="401.41" font-size="7.8" fill="#9a9a9a" text-anchor="middle" font-weight="normal">12</text><path d="M638.83 386.3 V318.19 a2.4 2.4 0 0 1 4.8 0 V386.3 Z" fill="url(#bg)"/><text x="641.23" y="312.03" font-size="6.8" fill="#2c2c2c" text-anchor="middle" font-weight="normal">173</text><path d="M657.43 386.3 V327.56 a2.4 2.4 0 0 1 4.8 0 V386.3 Z" fill="url(#bg)"/><text x="659.83" y="321.41" font-size="6.8" fill="#2c2c2c" text-anchor="middle" font-weight="normal">150</text><text x="659.83" y="401.41" font-size="7.8" fill="#9a9a9a" text-anchor="middle" font-weight="normal">13</text><path d="M676.04 386.3 V318.19 a2.4 2.4 0 0 1 4.8 0 V386.3 Z" fill="url(#bg)"/><text x="678.44" y="312.03" font-size="6.8" fill="#2c2c2c" text-anchor="middle" font-weight="normal">173</text><path d="M694.64 386.3 V310.03 a2.4 2.4 0 0 1 4.8 0 V386.3 Z" fill="url(#bg)"/><text x="697.04" y="303.88" font-size="6.8" fill="#2c2c2c" text-anchor="middle" font-weight="normal">193</text><text x="697.04" y="401.41" font-size="7.8" fill="#9a9a9a" text-anchor="middle" font-weight="normal">14</text><path d="M713.25 386.3 V312.48 a2.4 2.4 0 0 1 4.8 0 V386.3 Z" fill="url(#bg)"/><text x="715.64" y="306.33" font-size="6.8" fill="#2c2c2c" text-anchor="middle" font-weight="normal">187</text><path d="M731.85 386.3 V317.78 a2.4 2.4 0 0 1 4.8 0 V386.3 Z" fill="url(#bg)"/><text x="734.25" y="311.63" font-size="6.8" fill="#2c2c2c" text-anchor="middle" font-weight="normal">174</text><text x="734.25" y="401.41" font-size="7.8" fill="#9a9a9a" text-anchor="middle" font-weight="normal">15</text><path d="M750.46 386.3 V325.52 a2.4 2.4 0 0 1 4.8 0 V386.3 Z" fill="url(#bg)"/><text x="752.86" y="319.37" font-size="6.8" fill="#2c2c2c" text-anchor="middle" font-weight="normal">155</text><path d="M769.06 386.3 V332.45 a2.4 2.4 0 0 1 4.8 0 V386.3 Z" fill="url(#bg)"/><text x="771.46" y="326.30" font-size="6.8" fill="#2c2c2c" text-anchor="middle" font-weight="normal">138</text><text x="771.46" y="401.41" font-size="7.8" fill="#9a9a9a" text-anchor="middle" font-weight="normal">16</text><path d="M787.67 386.3 V326.34 a2.4 2.4 0 0 1 4.8 0 V386.3 Z" fill="url(#bg)"/><text x="790.07" y="320.19" font-size="6.8" fill="#2c2c2c" text-anchor="middle" font-weight="normal">153</text><path d="M806.27 386.3 V323.08 a2.4 2.4 0 0 1 4.8 0 V386.3 Z" fill="url(#bg)"/><text x="808.67" y="316.92" font-size="6.8" fill="#2c2c2c" text-anchor="middle" font-weight="normal">161</text><text x="808.67" y="401.41" font-size="7.8" fill="#9a9a9a" text-anchor="middle" font-weight="normal">17</text><path d="M824.88 386.3 V330.82 a2.4 2.4 0 0 1 4.8 0 V386.3 Z" fill="url(#bg)"/><text x="827.28" y="324.67" font-size="6.8" fill="#2c2c2c" text-anchor="middle" font-weight="normal">142</text><path d="M843.48 386.3 V347.12 a2.4 2.4 0 0 1 4.8 0 V386.3 Z" fill="url(#bg)"/><text x="845.88" y="340.97" font-size="6.8" fill="#2c2c2c" text-anchor="middle" font-weight="normal">102</text><text x="845.88" y="401.41" font-size="7.8" fill="#9a9a9a" text-anchor="middle" font-weight="normal">18</text><path d="M862.09 386.3 V334.49 a2.4 2.4 0 0 1 4.8 0 V386.3 Z" fill="url(#bg)"/><text x="864.49" y="328.34" font-size="6.8" fill="#2c2c2c" text-anchor="middle" font-weight="normal">133</text><path d="M880.69 386.3 V338.97 a2.4 2.4 0 0 1 4.8 0 V386.3 Z" fill="url(#bg)"/><text x="883.09" y="332.82" font-size="6.8" fill="#2c2c2c" text-anchor="middle" font-weight="normal">122</text><text x="883.09" y="401.41" font-size="7.8" fill="#9a9a9a" text-anchor="middle" font-weight="normal">19</text><path d="M899.30 386.3 V350.39 a2.4 2.4 0 0 1 4.8 0 V386.3 Z" fill="url(#bg)"/><text x="901.70" y="344.23" font-size="6.8" fill="#2c2c2c" text-anchor="middle" font-weight="normal">94</text><path d="M917.90 386.3 V339.79 a2.4 2.4 0 0 1 4.8 0 V386.3 Z" fill="url(#bg)"/><text x="920.30" y="333.64" font-size="6.8" fill="#2c2c2c" text-anchor="middle" font-weight="normal">120</text><text x="920.30" y="401.41" font-size="7.8" fill="#9a9a9a" text-anchor="middle" font-weight="normal">20</text><path d="M936.51 386.3 V343.05 a2.4 2.4 0 0 1 4.8 0 V386.3 Z" fill="url(#bg)"/><text x="938.91" y="336.90" font-size="6.8" fill="#2c2c2c" text-anchor="middle" font-weight="normal">112</text><path d="M955.11 386.3 V351.20 a2.4 2.4 0 0 1 4.8 0 V386.3 Z" fill="url(#bg)"/><text x="957.51" y="345.05" font-size="6.8" fill="#2c2c2c" text-anchor="middle" font-weight="normal">92</text><text x="957.51" y="401.41" font-size="7.8" fill="#9a9a9a" text-anchor="middle" font-weight="normal">21</text><path d="M973.72 386.3 V352.42 a2.4 2.4 0 0 1 4.8 0 V386.3 Z" fill="url(#bg)"/><text x="976.12" y="346.27" font-size="6.8" fill="#2c2c2c" text-anchor="middle" font-weight="normal">89</text><path d="M992.32 386.3 V353.24 a2.4 2.4 0 0 1 4.8 0 V386.3 Z" fill="url(#bg)"/><text x="994.72" y="347.09" font-size="6.8" fill="#2c2c2c" text-anchor="middle" font-weight="normal">87</text><text x="994.72" y="401.41" font-size="7.8" fill="#9a9a9a" text-anchor="middle" font-weight="normal">22</text><path d="M1010.93 386.3 V352.83 a2.4 2.4 0 0 1 4.8 0 V386.3 Z" fill="url(#bg)"/><text x="1013.33" y="346.68" font-size="6.8" fill="#2c2c2c" text-anchor="middle" font-weight="normal">88</text><path d="M1029.53 386.3 V350.79 a2.4 2.4 0 0 1 4.8 0 V386.3 Z" fill="url(#bg)"/><text x="1031.93" y="344.64" font-size="6.8" fill="#2c2c2c" text-anchor="middle" font-weight="normal">93</text><text x="1031.93" y="401.41" font-size="7.8" fill="#9a9a9a" text-anchor="middle" font-weight="normal">23</text><path d="M1048.13 386.3 V359.35 a2.4 2.4 0 0 1 4.8 0 V386.3 Z" fill="url(#bg)"/><text x="1050.54" y="353.20" font-size="6.8" fill="#2c2c2c" text-anchor="middle" font-weight="normal">72</text><path d="M250.3 541.4 L250.30 505.00 A36.4 36.4 0 0 1 268.50 572.92 Z" fill="#5ab3d6"/><path d="M250.3 541.4 L268.50 572.92 A36.4 36.4 0 0 1 215.58 530.45 Z" fill="#ccc"/><path d="M250.3 541.4 L215.58 530.45 A36.4 36.4 0 0 1 218.46 523.75 Z" fill="#8e5cc9"/><path d="M250.3 541.4 L218.46 523.75 A36.4 36.4 0 0 1 221.62 518.99 Z" fill="#fa6d3c"/><path d="M250.3 541.4 L221.62 518.99 A36.4 36.4 0 0 1 225.01 515.22 Z" fill="#2c9c63"/><path d="M250.3 541.4 L225.01 515.22 A36.4 36.4 0 0 1 250.30 505.00 Z" fill="#0590f7"/><path d="M216.2 475.3 H234.6 L237.6 506.8" stroke="#36a7f5" stroke-width="0.8" fill="none"/><path d="M214 491 H217.2 L223.9 515.6" stroke="#35a873" stroke-width="0.8" fill="none"/><path d="M205.4 506.7 H213.4 L220 519.4" stroke="#fb9877" stroke-width="0.8" fill="none"/><path d="M190.5 521.3 H209.6 L213 524" stroke="#b088dc" stroke-width="0.8" fill="none"/><text x="150.00" y="473.06" font-size="7.4" fill="#222" text-anchor="start" font-weight="normal" textLength="64.50" lengthAdjust="spacing">Other Departments</text><text x="150.00" y="481.36" font-size="6" fill="#9a9a9a" text-anchor="start" font-weight="normal">4738</text><text x="150.00" y="489.12" font-size="7" fill="#222" text-anchor="start" font-weight="normal" textLength="62.00" lengthAdjust="spacing">5楼中心手术室-病理</text><text x="150.00" y="496.46" font-size="6" fill="#9a9a9a" text-anchor="start" font-weight="normal">917</text><text x="150.00" y="504.72" font-size="7" fill="#222" text-anchor="start" font-weight="normal" textLength="54.00" lengthAdjust="spacing">9楼外科住院部-...</text><text x="150.00" y="511.76" font-size="6" fill="#9a9a9a" text-anchor="start" font-weight="normal">953</text><text x="150.00" y="519.32" font-size="7" fill="#222" text-anchor="start" font-weight="normal" textLength="38.50" lengthAdjust="spacing">5楼新生儿科</text><text x="150.00" y="526.36" font-size="6" fill="#9a9a9a" text-anchor="start" font-weight="normal">1223</text><path d="M443.10 509.4 V530" stroke="#d0d0d0" stroke-width="0.6" stroke-dasharray="1.6 1.6"/><path d="M462.50 509.4 V530" stroke="#d0d0d0" stroke-width="0.6" stroke-dasharray="1.6 1.6"/><path d="M481.90 509.4 V530" stroke="#d0d0d0" stroke-width="0.6" stroke-dasharray="1.6 1.6"/><path d="M501.30 509.4 V530" stroke="#d0d0d0" stroke-width="0.6" stroke-dasharray="1.6 1.6"/><path d="M520.70 509.4 V530" stroke="#d0d0d0" stroke-width="0.6" stroke-dasharray="1.6 1.6"/><path d="M540.10 509.4 V530" stroke="#d0d0d0" stroke-width="0.6" stroke-dasharray="1.6 1.6"/><path d="M559.50 509.4 V530" stroke="#d0d0d0" stroke-width="0.6" stroke-dasharray="1.6 1.6"/><path d="M578.90 509.4 V530" stroke="#d0d0d0" stroke-width="0.6" stroke-dasharray="1.6 1.6"/><path d="M443.1 509.4 H578.9" stroke="#d0d0d0" stroke-width="0.6" stroke-dasharray="1.6 1.6"/><path d="M443.1 518.4 H578.9" stroke="#d0d0d0" stroke-width="0.6" stroke-dasharray="1.6 1.6"/><path d="M443.1 511 H565.1 a2.45 2.45 0 0 1 0 4.9 H443.1 Z" fill="url(#hb)"/><path d="M443.1 520.2 H460 a2.45 2.45 0 0 1 0 4.9 H443.1 Z" fill="url(#hb)"/><text x="438.00" y="515.42" font-size="7" fill="#333" text-anchor="end" font-weight="normal" textLength="30.50" lengthAdjust="spacing">1楼待机区</text><text x="438.00" y="524.82" font-size="7" fill="#333" text-anchor="end" font-weight="normal" textLength="43.00" lengthAdjust="spacing">1楼急诊采血</text><text x="570.70" y="515.20" font-size="6.4" fill="#333" text-anchor="start" font-weight="normal" textLength="17.00" lengthAdjust="spacing">19288</text><text x="465.90" y="524.68" font-size="6.6" fill="#333" text-anchor="start" font-weight="normal">3020</text><path d="M740.8 543.8 L740.80 505.00 A38.8 38.8 0 0 1 760.20 577.40 Z" fill="#5ab3d6"/><path d="M740.8 543.8 L760.20 577.40 A38.8 38.8 0 0 1 704.34 530.53 Z" fill="#ccc"/><path d="M740.8 543.8 L704.34 530.53 A38.8 38.8 0 0 1 708.26 522.67 Z" fill="#fbb49c"/><path d="M740.8 543.8 L708.26 522.67 A38.8 38.8 0 0 1 710.82 519.17 Z" fill="#8e5cc9"/><path d="M740.8 543.8 L710.82 519.17 A38.8 38.8 0 0 1 716.49 513.56 Z" fill="#fa6d3c"/><path d="M740.8 543.8 L716.49 513.56 A38.8 38.8 0 0 1 721.40 510.20 Z" fill="#2c9c63"/><path d="M740.8 543.8 L721.40 510.20 A38.8 38.8 0 0 1 740.80 505.00 Z" fill="#0590f7"/><path d="M706.6 497.9 H728.6 L730.8 506" stroke="#45b8f5" stroke-width="0.8" fill="none"/><path d="M708.4 513.7 H715.1 L718.6 511.9" stroke="#35a873" stroke-width="0.8" fill="none"/><path d="M766.6 514.6 L772.2 508.6 H791.2" stroke="#6bc3e4" stroke-width="0.8" fill="none"/><text x="640.40" y="496.16" font-size="7.4" fill="#222" text-anchor="start" font-weight="normal" textLength="64.50" lengthAdjust="spacing">Other Departments</text><text x="640.40" y="503.46" font-size="6" fill="#9a9a9a" text-anchor="start" font-weight="normal">5802</text><text x="640.40" y="510.72" font-size="7" fill="#222" text-anchor="start" font-weight="normal" textLength="67.00" lengthAdjust="spacing">2楼妇科门诊阴道镜室</text><text x="640.40" y="518.96" font-size="6" fill="#9a9a9a" text-anchor="start" font-weight="normal">1885</text><text x="640.40" y="526.92" font-size="7" fill="#222" text-anchor="start" font-weight="normal" textLength="42.00" lengthAdjust="spacing">5楼产房-标本</text><text x="793.90" y="506.52" font-size="7" fill="#222" text-anchor="start" font-weight="normal" textLength="48.50" lengthAdjust="spacing">检验科（白天）</text><text x="839.30" y="514.56" font-size="6" fill="#9a9a9a" text-anchor="end" font-weight="normal">16442</text><path d="M934.10 509.4 V530" stroke="#d0d0d0" stroke-width="0.6" stroke-dasharray="1.6 1.6"/><path d="M956.65 509.4 V530" stroke="#d0d0d0" stroke-width="0.6" stroke-dasharray="1.6 1.6"/><path d="M979.20 509.4 V530" stroke="#d0d0d0" stroke-width="0.6" stroke-dasharray="1.6 1.6"/><path d="M1001.75 509.4 V530" stroke="#d0d0d0" stroke-width="0.6" stroke-dasharray="1.6 1.6"/><path d="M1024.30 509.4 V530" stroke="#d0d0d0" stroke-width="0.6" stroke-dasharray="1.6 1.6"/><path d="M1046.85 509.4 V530" stroke="#d0d0d0" stroke-width="0.6" stroke-dasharray="1.6 1.6"/><path d="M1069.40 509.4 V530" stroke="#d0d0d0" stroke-width="0.6" stroke-dasharray="1.6 1.6"/><path d="M934.1 509.4 H1069.4" stroke="#d0d0d0" stroke-width="0.6" stroke-dasharray="1.6 1.6"/><path d="M934.1 518.4 H1069.4" stroke="#d0d0d0" stroke-width="0.6" stroke-dasharray="1.6 1.6"/><path d="M934.1 510.8 H1055.5 a2.45 2.45 0 0 1 0 4.9 H934.1 Z" fill="url(#hb)"/><path d="M934.1 520.2 H991.5 a2.45 2.45 0 0 1 0 4.9 H934.1 Z" fill="url(#hb)"/><text x="929.00" y="515.22" font-size="7" fill="#333" text-anchor="end" font-weight="normal" textLength="40.00" lengthAdjust="spacing">检验科（白...</text><text x="929.00" y="524.82" font-size="7" fill="#333" text-anchor="end" font-weight="normal" textLength="44.00" lengthAdjust="spacing">8楼产科住院</text><text x="1060.90" y="515.00" font-size="6.4" fill="#333" text-anchor="start" font-weight="normal" textLength="16.60" lengthAdjust="spacing">16442</text><text x="996.90" y="524.68" font-size="6.6" fill="#333" text-anchor="start" font-weight="normal">7941</text></svg>
<div style="position:absolute;left:116.50px;top:523.20px;width:1000.50px;height:10.80px;background:linear-gradient(90deg,#e1eefc 0%,#e3eefa 60%,#e7eef8 100%);border-radius:0px;"></div>
<div style="position:absolute;left:1102.00px;top:77.00px;width:2.70px;height:357.00px;background:#cbcdd2;border-radius:1.3px;"></div>
<div style="position:absolute;left:1094px;top:277px;width:30px;height:30px;border-radius:8px;background:#e7e8ea;filter:blur(4px)"></div>
<div style="position:absolute;left:1094px;top:305px;width:24px;height:18px;border-radius:9px;background:#f6bccb;filter:blur(4px)"></div>
</body></html>
